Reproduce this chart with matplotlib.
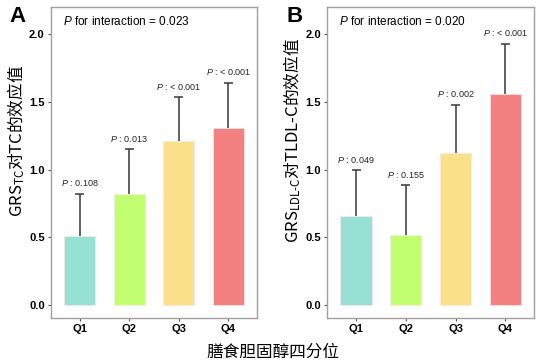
import matplotlib.pyplot as plt
import numpy as np

plt.rcParams['font.family'] = ['Liberation Sans', 'Noto Sans CJK SC', 'DejaVu Sans']
plt.rcParams['mathtext.fontset'] = 'custom'
plt.rcParams['mathtext.rm'] = 'Liberation Sans'
plt.rcParams['mathtext.it'] = 'Liberation Sans:italic'
plt.rcParams['mathtext.bf'] = 'Liberation Sans:bold'

# data
quartiles = ['Q1', 'Q2', 'Q3', 'Q4']
colors = ['#97E1D4', '#C1FF71', '#F9E089', '#F38181']

tc_effect = [0.51, 0.82, 1.21, 1.31]
tc_upper = [0.82, 1.15, 1.535, 1.64]
tc_p = ['0.108', '0.013', '< 0.001', '< 0.001']
tc_inter = '0.023'

ldl_effect = [0.66, 0.52, 1.12, 1.555]
ldl_upper = [0.995, 0.885, 1.48, 1.93]
ldl_p = ['0.049', '0.155', '0.002', '< 0.001']
ldl_inter = '0.020'

fig = plt.figure(figsize=(5.5, 3.61), dpi=100)
axA = fig.add_axes([0.0927, 0.119, 0.3745, 0.8616])
axB = fig.add_axes([0.595, 0.119, 0.376, 0.8616])


def panel(ax, vals, upper, pvals, inter, ylab):
    x = np.arange(1, len(vals) + 1)
    up = np.array(upper)
    ax.vlines(x, vals, up, color='#383838', lw=1.1, zorder=1)
    ax.hlines(up, x - 0.09, x + 0.09, color='#383838', lw=1.1, zorder=1)
    ax.bar(x, vals, width=0.63, color=colors, edgecolor='#fde8e8', lw=0.5, zorder=2)
    for xi, u, p in zip(x, up, pvals):
        ax.annotate('$\\it{P}$ : ' + p, (xi, u), xytext=(0, 4), textcoords='offset points',
                    ha='center', va='bottom', fontsize=6.5, color='#222222')
    ax.text(0.058, 0.955, '$\\it{P}$ for interaction = ' + inter, transform=ax.transAxes,
            fontsize=8.5, va='center', ha='left')
    ax.set_xlim(0.42, 4.58)
    ax.set_ylim(-0.095, 2.2)
    ax.set_xticks(x)
    ax.set_xticklabels(quartiles, fontweight='bold', fontsize=8)
    ax.set_yticks([0, 0.5, 1.0, 1.5, 2.0])
    ax.set_yticklabels(['0.0', '0.5', '1.0', '1.5', '2.0'], fontweight='bold', fontsize=8)
    ax.tick_params(length=2.5, width=0.8, color='#555555', pad=2)
    for s in ax.spines.values():
        s.set_color('#a0a0a0')
        s.set_linewidth(1.0)
    ax.set_ylabel(ylab, fontsize=12, family=['Noto Sans CJK SC'])
    ax.yaxis.set_label_coords(-0.118, 0.57)


panel(axA, tc_effect, tc_upper, tc_p, tc_inter, 'GRS$_{\\mathregular{TC}}$对TC的效应值')
panel(axB, ldl_effect, ldl_upper, ldl_p, ldl_inter, 'GRS$_{\\mathregular{LDL\\text{-}C}}$对TLDL-C的效应值')

fig.text(0.018, 0.955, 'A', fontsize=16, fontweight='bold', va='center', ha='left')
fig.text(0.52, 0.955, 'B', fontsize=16, fontweight='bold', va='center', ha='left')
fig.text(0.497, 0.025, '膳食胆固醇四分位', fontsize=12, ha='center', va='center',
         family=['Noto Sans CJK SC'])

fig.savefig('out.png', dpi=100)
